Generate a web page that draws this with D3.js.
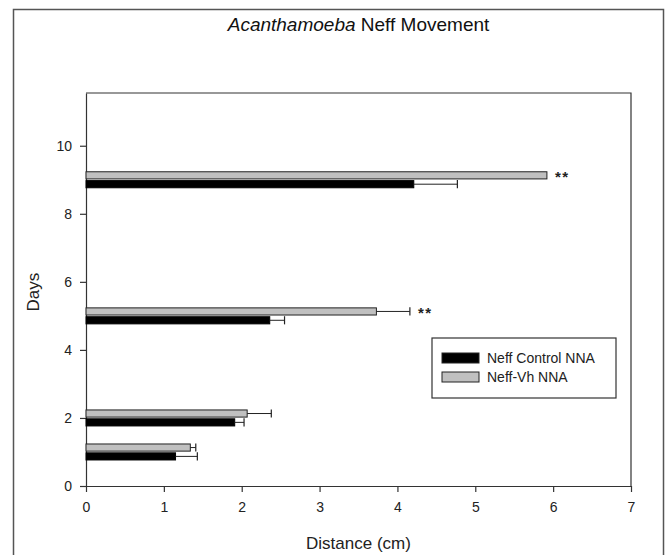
<!DOCTYPE html>
<html>
<head>
<meta charset="utf-8">
<script src="https://d3js.org/d3.v7.min.js"></script>
<style>
  body { margin: 0; background: #fff; }
  svg { font-family: "Liberation Sans", Arial, sans-serif; }
</style>
</head>
<body>
<div id="chartHere"></div>
<script>

var days = [1, 2, 5, 9];
var controlVals = [1.15, 1.91, 2.36, 4.21];
var controlErr = [0.28, 0.12, 0.19, 0.56];
var vhVals = [1.34, 2.07, 3.73, 5.92];
var vhErr = [0.07, 0.31, 0.43, 0];
var signif = ["", "", "**", "**"];
var xTicks = [0, 1, 2, 3, 4, 5, 6, 7];
var yTicks = [0, 2, 4, 6, 8, 10];
var seriesNames = ["Neff Control NNA", "Neff-Vh NNA"];

var dims = {"height": 555, "width": 667};
var margin = {"top": 93, "right": 36, "bottom": 69, "left": 86};

var barThick = 0.21;   // in days
var barOffset = 0.13;

var svg = d3.select("#chartHere")
  .append("svg")
    .attr("width", dims.width)
    .attr("height", dims.height);

// outer frame
svg.append("rect")
  .attr("x", 13.5).attr("y", 9.5)
  .attr("width", 650).attr("height", 560)
  .attr("fill", "none").attr("stroke", "#555").attr("stroke-width", 1.5);

var xScale = d3.scaleLinear()
  .domain([0, 7])
  .range([margin.left, dims.width - margin.right]);

var yScale = d3.scaleLinear()
  .domain([0, 11.55])
  .range([dims.height - margin.bottom, margin.top]);

// plot box top + right
svg.append("path")
  .attr("d", "M" + xScale(0) + "," + yScale(11.55) + "H" + xScale(7) + "V" + yScale(0))
  .attr("fill", "none").attr("stroke", "#333").attr("stroke-width", 1.2);

var xAxis = svg.append("g")
  .attr("transform", "translate(0," + yScale(0) + ")")
  .call(d3.axisBottom(xScale).tickValues(xTicks).tickFormat(d3.format("d"))
    .tickSize(6).tickPadding(10).tickSizeOuter(0));

var yAxis = svg.append("g")
  .attr("transform", "translate(" + xScale(0) + ",0)")
  .call(d3.axisLeft(yScale).tickValues(yTicks).tickFormat(d3.format("d"))
    .tickSize(6).tickPadding(8).tickSizeOuter(0));

[xAxis, yAxis].forEach(function (a) {
  a.selectAll("path, line").attr("stroke", "#333").attr("stroke-width", 1.2);
  a.selectAll("text").attr("font-size", 14).attr("fill", "#222")
    .attr("font-family", "'Liberation Sans', Arial, sans-serif");
});

var bh = Math.abs(yScale(0) - yScale(barThick));

// gray bars (Neff-Vh), above the day
svg.selectAll("rect.vh")
  .data(vhVals).enter().append("rect")
  .attr("class", "vh")
  .attr("x", xScale(0))
  .attr("y", function (d, i) { return yScale(days[i] + barOffset) - bh / 2; })
  .attr("width", function (d) { return xScale(d) - xScale(0); })
  .attr("height", bh)
  .attr("fill", "#c0c0c0").attr("stroke", "#222").attr("stroke-width", 1);

// black bars (control), below the day
svg.selectAll("rect.ctrl")
  .data(controlVals).enter().append("rect")
  .attr("class", "ctrl")
  .attr("x", xScale(0))
  .attr("y", function (d, i) { return yScale(days[i] - barOffset) - bh / 2; })
  .attr("width", function (d) { return xScale(d) - xScale(0); })
  .attr("height", bh)
  .attr("fill", "#000").attr("stroke", "#000").attr("stroke-width", 1);

// error bars (one sided, to the right)
function errBars(vals, errs, off, cls) {
  var pts = vals.map(function (v, i) { return {v: v, e: errs[i], day: days[i]}; })
    .filter(function (p) { return p.e > 0; });
  var g = svg.selectAll("g." + cls)
    .data(pts).enter().append("g").attr("class", cls);
  g.append("line")
    .attr("x1", function (p) { return xScale(p.v); })
    .attr("x2", function (p) { return xScale(p.v + p.e); })
    .attr("y1", function (p) { return yScale(p.day + off); })
    .attr("y2", function (p) { return yScale(p.day + off); })
    .attr("stroke", "#222").attr("stroke-width", 1);
  g.append("line")
    .attr("x1", function (p) { return xScale(p.v + p.e); })
    .attr("x2", function (p) { return xScale(p.v + p.e); })
    .attr("y1", function (p) { return yScale(p.day + off) - bh / 2 - 0.5; })
    .attr("y2", function (p) { return yScale(p.day + off) + bh / 2 + 0.5; })
    .attr("stroke", "#222").attr("stroke-width", 1.2);
}
errBars(vhVals, vhErr, barOffset, "vherr");
errBars(controlVals, controlErr, -barOffset, "ctrlerr");

// significance stars
svg.selectAll("text.sig")
  .data(signif).enter().append("text")
  .attr("class", "sig")
  .attr("x", function (d, i) { return xScale(vhVals[i] + vhErr[i]) + 8; })
  .attr("y", function (d, i) { return yScale(days[i] + barOffset) + 7; })
  .attr("font-size", 15).attr("font-weight", "bold").attr("fill", "#222")
  .attr("letter-spacing", 1.5)
  .text(function (d) { return d; });

// titles
var title = svg.append("text")
  .attr("x", (xScale(0) + xScale(7)) / 2).attr("y", 31)
  .attr("text-anchor", "middle").attr("font-size", 19).attr("fill", "#111");
title.append("tspan").attr("font-style", "italic").text("Acanthamoeba");
title.append("tspan").text(" Neff Movement");

svg.append("text")
  .attr("x", (xScale(0) + xScale(7)) / 2).attr("y", 549)
  .attr("text-anchor", "middle").attr("font-size", 17).attr("fill", "#222")
  .text("Distance (cm)");

svg.append("text")
  .attr("transform", "translate(39," + yScale(5.7) + ") rotate(-90)")
  .attr("text-anchor", "middle").attr("font-size", 17).attr("fill", "#222")
  .text("Days");

// legend
var legend = svg.append("g").attr("transform", "translate(432,338)");
legend.append("rect")
  .attr("width", 184).attr("height", 60)
  .attr("fill", "#fff").attr("stroke", "#333").attr("stroke-width", 1.2);
var swatchFill = ["#000", "#c0c0c0"];
legend.selectAll("rect.sw")
  .data(seriesNames).enter().append("rect")
  .attr("class", "sw")
  .attr("x", 10).attr("y", function (d, i) { return 15 + i * 19; })
  .attr("width", 37).attr("height", 10)
  .attr("fill", function (d, i) { return swatchFill[i]; })
  .attr("stroke", "#222").attr("stroke-width", 1);
legend.selectAll("text")
  .data(seriesNames).enter().append("text")
  .attr("x", 55).attr("y", function (d, i) { return 25 + i * 19; })
  .attr("font-size", 14).attr("fill", "#222")
  .text(function (d) { return d; });

</script>
</body>
</html>
